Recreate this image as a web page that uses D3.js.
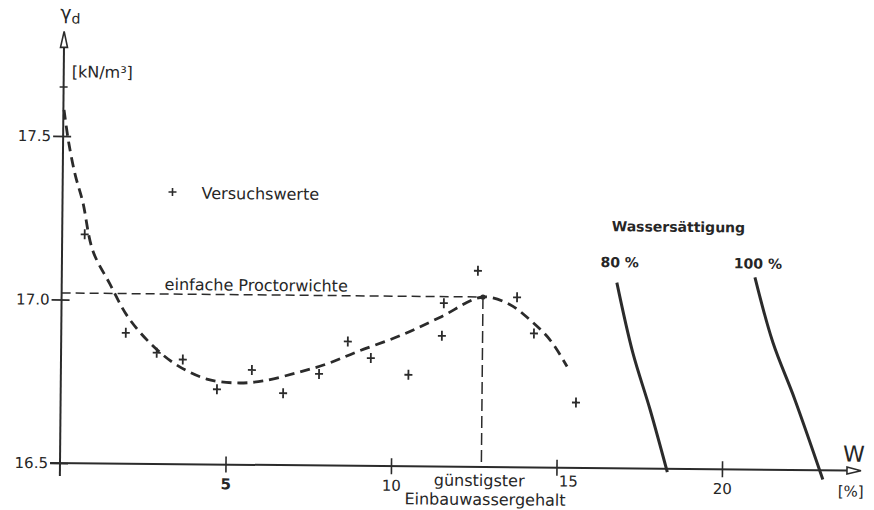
<!DOCTYPE html>
<html>
<head>
<meta charset="utf-8">
<script src="https://d3js.org/d3.v7.min.js"></script>
<style>
  body { margin: 0; background: #fff; }
  svg { display: block; font-family: "DejaVu Sans", sans-serif; }
  .ink { stroke: #2b2b2b; fill: none; }
  text { fill: #262626; }
  .axis .domain { display: none; }
  .axis line { stroke: #2b2b2b; stroke-width: 1.6; }
  .axis text { font-family: "DejaVu Sans", sans-serif; font-size: 14px; fill: #262626; }
</style>
</head>
<body>
<svg id="chart" width="874" height="510"></svg>
<script>
// test values: water content w [%] and dry density gamma_d [kN/m3]
const sampleW = [0.68, 1.95, 2.89, 3.68, 4.72, 5.77, 6.72, 7.80, 8.66, 9.36, 10.50, 11.50, 11.55, 12.57, 13.76, 14.28, 15.57];
const sampleGamma = [17.20, 16.90, 16.84, 16.82, 16.73, 16.79, 16.72, 16.78, 16.88, 16.83, 16.78, 16.90, 17.00, 17.10, 17.02, 16.91, 16.70];

// hand-drawn Proctor curve
const fitW = [0.02, 0.17, 0.38, 0.61, 0.93, 1.45, 2.0, 2.74, 3.5, 4.41, 5.32, 6.11, 7.13, 8.04, 8.97, 10.23, 11.43, 12.73, 13.54, 14.15, 14.76, 15.29];
const fitGamma = [17.58, 17.48, 17.38, 17.30, 17.15, 17.05, 16.95, 16.864, 16.803, 16.761, 16.750, 16.757, 16.783, 16.811, 16.85, 16.899, 16.956, 17.02, 16.998, 16.952, 16.892, 16.81];

// optimum
const optimumW = 12.73;
const proctorGamma = 17.02;

// saturation lines
const sat80W = [16.77, 17.27, 17.81, 18.35];
const sat80Gamma = [17.068, 16.855, 16.681, 16.49];
const sat100W = [20.94, 21.50, 22.18, 23.05];
const sat100Gamma = [17.088, 16.89, 16.716, 16.472];

// ticks
const xTicks = [5, 10, 15, 20];
const xTickLabels = ['5', '10', '15', '20'];
const yTicks = [16.5, 17.0, 17.5];
const yTickLabels = ['16.5', '17.0', '17.5'];
const yMinorTicks = [17.65];

const svg = d3.select('#chart');

const x = d3.scaleLinear().domain([0, 20]).range([60, 722]);
const y = d3.scaleLinear().domain([16.5, 17.5]).range([463, 136]);

// the scanned sheet is a little crooked
const g = svg.append('g').attr('transform', `rotate(0.55, ${ x(0) }, ${ y(16.5) })`);

// ---------------------------------------------------------
// AXES
// ---------------------------------------------------------

const xAxis = d3.axisBottom(x).tickValues(xTicks).tickFormat((d, i) => xTickLabels[i]);
const xAxisG = g.append('g').attr('class', 'axis x').attr('transform', `translate(0, ${ y(16.5) })`).call(xAxis);
xAxisG.selectAll('.tick line').attr('y1', -8).attr('y2', 8);
xAxisG.selectAll('.tick text').attr('y', 14).attr('dy', '0.71em').style('font-size', '15px');
xAxisG.selectAll('.tick').filter(d => d === 15).select('text').attr('text-anchor', 'start').attr('x', 2).attr('y', 8);
xAxisG.selectAll('.tick').filter(d => d === 5).select('text').style('font-weight', 'bold');

const yAxis = d3.axisLeft(y).tickValues(yTicks).tickFormat((d, i) => yTickLabels[i]);
const yAxisG = g.append('g').attr('class', 'axis y').attr('transform', `translate(${ x(0) }, 0)`).call(yAxis);
yAxisG.selectAll('.tick line').attr('x1', -10).attr('x2', 8);
yAxisG.selectAll('.tick text').attr('x', -12).style('font-size', '15px');

g.selectAll('.minor-tick').data(yMinorTicks).enter().append('path')
  .attr('class', 'ink minor-tick').attr('stroke-width', 1.6)
  .attr('d', d => `M${ x(0) - 4 },${ y(d) }h8`);

// axis lines with open arrow heads
const xEnd = x(24.2), yTop = y(17.82);
g.append('path').attr('class', 'ink').attr('stroke-width', 2)
  .attr('d', `M${ x(-0.3) },${ y(16.5) }H${ xEnd - 14 }`);
g.append('path').attr('class', 'ink').attr('stroke-width', 1.6).style('fill', '#fff')
  .attr('d', `M${ xEnd },${ y(16.5) }l-14,-3.5v7z`);
g.append('path').attr('class', 'ink').attr('stroke-width', 2)
  .attr('d', `M${ x(0) },${ y(16.46) }V${ yTop + 16 }`);
g.append('path').attr('class', 'ink').attr('stroke-width', 1.6).style('fill', '#fff')
  .attr('d', `M${ x(0) },${ yTop }l-3.5,16h7z`);

// axis titles
const yTitle = g.append('text').attr('x', x(0) - 4).attr('y', yTop - 12).style('font-size', '19px');
yTitle.append('tspan').text('γ');
yTitle.append('tspan').attr('dy', 4).style('font-size', '14px').text('d');
g.append('text').attr('x', x(0) + 8).attr('y', yTop + 46).style('font-size', '16px').text('[kN/m³]');

g.append('text').attr('x', xEnd - 18).attr('y', y(16.5) - 9).style('font-size', '22px').text('W');
g.append('text').attr('x', xEnd - 23).attr('y', y(16.5) + 26).style('font-size', '15px').text('[%]');

// ---------------------------------------------------------
// PROCTOR CURVE AND OPTIMUM
// ---------------------------------------------------------

g.append('path').attr('class', 'ink').attr('stroke-width', 1.5).attr('stroke-dasharray', '9,5')
  .attr('d', `M${ x(0) },${ y(proctorGamma) }H${ x(optimumW) }`);
g.append('path').attr('class', 'ink').attr('stroke-width', 1.5).attr('stroke-dasharray', '12,5')
  .attr('d', `M${ x(optimumW) },${ y(proctorGamma) }V${ y(16.5) }`);

const fitLine = d3.line().curve(d3.curveCatmullRom.alpha(0.5)).x(d => x(d[0])).y(d => y(d[1]));
g.append('path').attr('class', 'ink').attr('stroke-width', 2.8).attr('stroke-dasharray', '10,6')
  .attr('d', fitLine(d3.zip(fitW, fitGamma)));

g.append('circle').attr('cx', x(optimumW)).attr('cy', y(proctorGamma)).attr('r', 2.6)
  .style('fill', '#2b2b2b');

// test points
g.selectAll('.sample').data(d3.zip(sampleW, sampleGamma)).enter().append('path')
  .attr('class', 'ink sample').attr('stroke-width', 1.8)
  .attr('d', d => `M${ x(d[0]) - 4 },${ y(d[1]) }h8M${ x(d[0]) },${ y(d[1]) - 5 }v10`);

// ---------------------------------------------------------
// SATURATION LINES
// ---------------------------------------------------------

const satLine = d3.line().curve(d3.curveCatmullRom.alpha(0.5)).x(d => x(d[0])).y(d => y(d[1]));
g.append('path').attr('class', 'ink').attr('stroke-width', 3).attr('d', satLine(d3.zip(sat80W, sat80Gamma)));
g.append('path').attr('class', 'ink').attr('stroke-width', 3).attr('d', satLine(d3.zip(sat100W, sat100Gamma)));

// ---------------------------------------------------------
// LABELS
// ---------------------------------------------------------

g.append('path').attr('class', 'ink').attr('stroke-width', 1.6)
  .attr('d', `M${ x(3.32) - 4 },${ y(17.332) }h8M${ x(3.32) },${ y(17.332) - 4 }v8`);
g.append('text').attr('x', x(4.2)).attr('y', y(17.312)).style('font-size', '16px').text('Versuchswerte');

g.append('text').attr('x', x(3.11)).attr('y', y(proctorGamma) - 4).style('font-size', '16px').text('einfache Proctorwichte');

g.append('text').attr('x', x(16.6)).attr('y', y(17.225)).style('font-size', '14px').style('font-weight', 'bold').text('Wassersättigung');
g.append('text').attr('x', x(16.27)).attr('y', y(17.115)).style('font-size', '14px').style('font-weight', 'bold').text('80 %');
g.append('text').attr('x', x(20.3)).attr('y', y(17.115)).style('font-size', '14px').style('font-weight', 'bold').text('100 %');

g.append('text').attr('x', x(optimumW) - 2).attr('y', y(16.5) + 19).attr('text-anchor', 'middle').style('font-size', '16px').text('günstigster');
g.append('text').attr('x', x(optimumW) + 4).attr('y', y(16.5) + 38).attr('text-anchor', 'middle').style('font-size', '16px').text('Einbauwassergehalt');
</script>
</body>
</html>
